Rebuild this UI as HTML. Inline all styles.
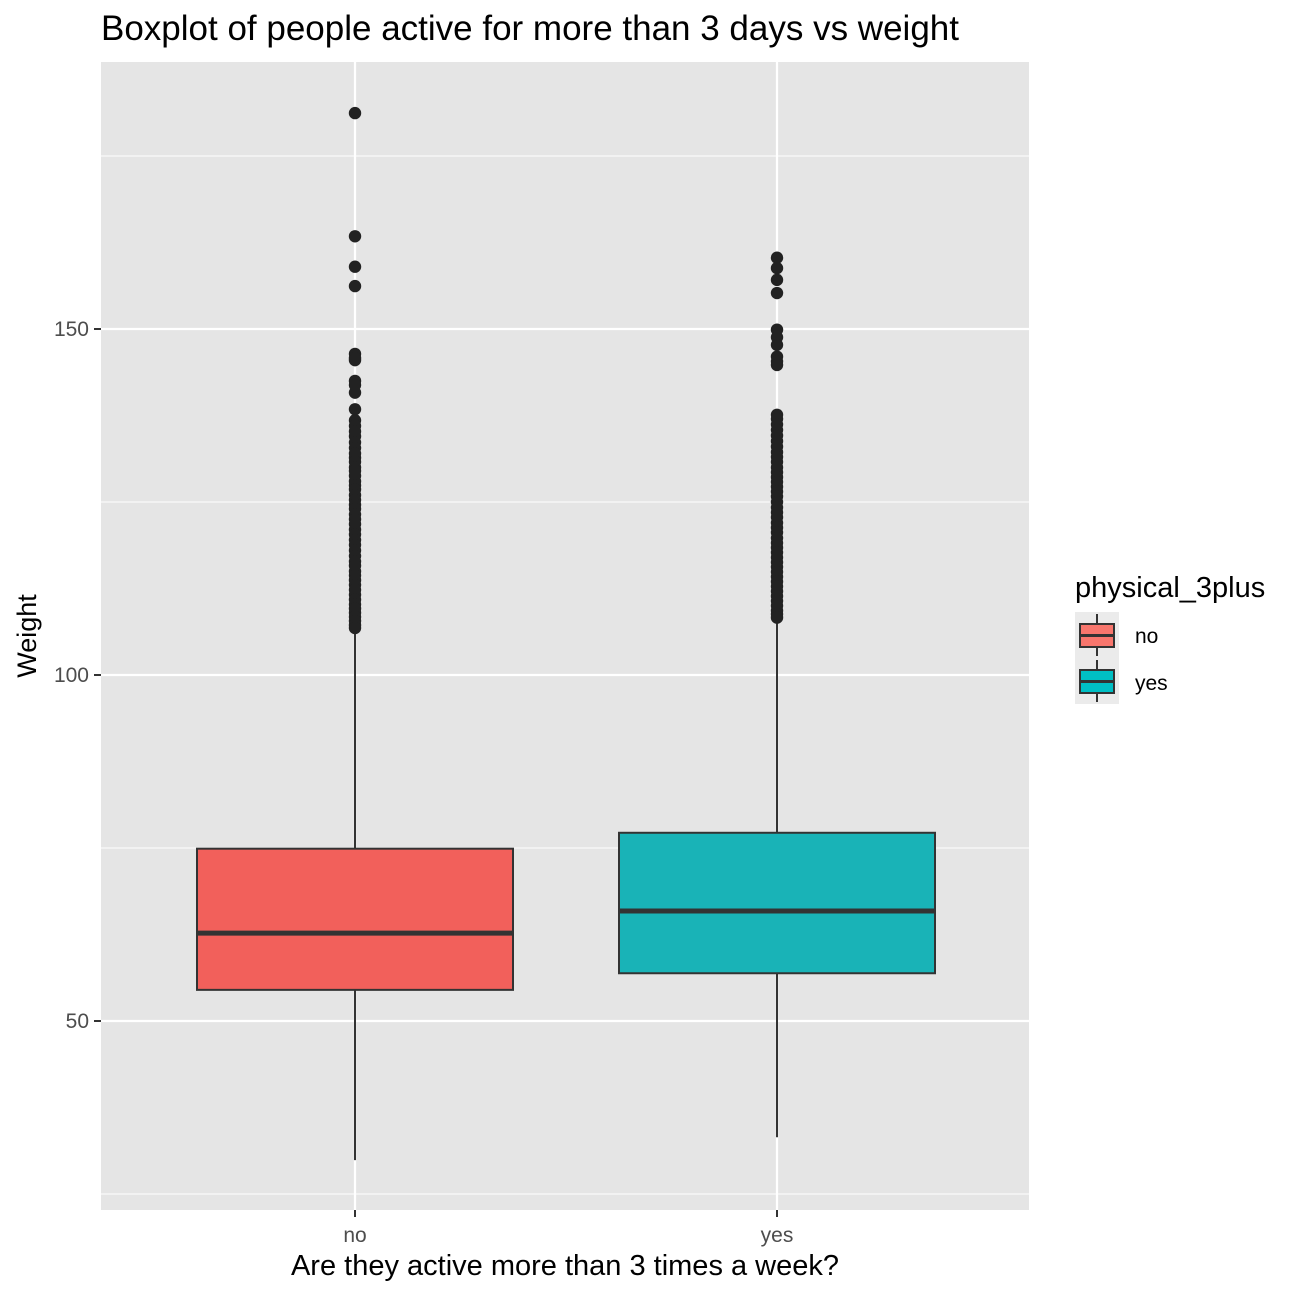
<!DOCTYPE html>
<html><head><meta charset="utf-8"><style>
html,body{margin:0;padding:0;background:#fff}
svg{display:block;font-family:"Liberation Sans",Arial,sans-serif}
</style></head><body>
<svg id="chart" width="1296" height="1296" viewBox="0 0 1296 1296">
<text x="101" y="40" font-size="35" fill="#000">Boxplot of people active for more than 3 days vs weight</text>
<rect x="101" y="62" width="928" height="1148" fill="#e5e5e5"/>
<g id="grid"></g>
<g id="marks"></g>
<g id="axes"></g>
<text x="565" y="1275" font-size="29" text-anchor="middle" fill="#000">Are they active more than 3 times a week?</text>
<text transform="translate(36,636) rotate(-90)" font-size="27" text-anchor="middle" fill="#000">Weight</text>
<g>
<text x="1075" y="597" font-size="29" fill="#000">physical_3plus</text>
<rect x="1075" y="612" width="44" height="92" fill="#ebebeb"/>
<g>
<line x1="1097" y1="614" x2="1097" y2="656" stroke="#333" stroke-width="2"/>
<rect x="1080" y="624" width="34" height="23" fill="#F8766D" stroke="#333" stroke-width="2"/>
<line x1="1080" y1="635.5" x2="1114" y2="635.5" stroke="#333" stroke-width="3"/>
<text x="1135" y="643" font-size="21" fill="#000">no</text>
</g>
<g>
<line x1="1097" y1="660" x2="1097" y2="702" stroke="#333" stroke-width="2"/>
<rect x="1080" y="670" width="34" height="23" fill="#00BFC4" stroke="#333" stroke-width="2"/>
<line x1="1080" y1="681.5" x2="1114" y2="681.5" stroke="#333" stroke-width="3"/>
<text x="1135" y="690" font-size="21" fill="#000">yes</text>
</g>
</g>
</svg>
<script>
const categories = ["no", "yes"];
const fills = ["#F2605B", "#19B3B7"];
const lowerWhisker = [29.9, 33.2];
const q1 = [54.5, 56.9];
const median = [62.7, 65.9];
const q3 = [74.9, 77.2];
const upperWhisker = [106.8, 108.2];
const outliersNo = [181.2,163.4,159.0,156.2,146.4,145.8,145.5,142.5,141.9,140.8,138.4,136.8,136.0,135.2,134.5,133.6,132.8,132.0,131.4,130.8,130.0,129.5,128.8,128.0,127.4,126.8,126.0,125.3,124.6,124.0,123.2,122.5,121.8,121.0,120.3,119.5,118.8,118.0,117.2,116.4,115.8,115.0,114.4,113.7,113.0,112.3,111.6,110.9,110.2,109.6,109.0,108.4,107.8,107.2,106.8];
const outliersYes = [160.3,158.8,157.1,155.2,149.9,148.8,147.7,146.0,145.3,144.8,137.6,137.0,136.2,135.4,134.6,133.8,133.0,132.2,131.5,130.8,130.0,129.3,128.6,127.9,127.2,126.5,125.8,125.0,124.2,123.5,122.8,122.0,121.3,120.6,119.8,119.1,118.4,117.7,117.0,116.3,115.6,114.9,114.2,113.5,112.8,112.1,111.4,110.7,110.0,109.3,108.8,108.3];
const outliers = [outliersNo, outliersYes];
const majorTicks = [50, 100, 150];
const minorTicks = [25, 75, 125, 175];

const NS = "http://www.w3.org/2000/svg";
function yScale(v){ return 675 - (v - 100) * 6.92; }
function xScale(i){ return 355 + i * 422; }
function mk(tag, attrs, parent){
  const e = document.createElementNS(NS, tag);
  for (const k in attrs) e.setAttribute(k, attrs[k]);
  parent.appendChild(e); return e;
}
const grid = document.getElementById("grid");
const marks = document.getElementById("marks");
const axes = document.getElementById("axes");
minorTicks.forEach(t => {
  const l = mk("line", {x1:101, x2:1029, y1:yScale(t), y2:yScale(t), stroke:"#fff", "stroke-width":1.1}, grid);
  
  
});
majorTicks.forEach(t => {
  const y = yScale(t);
  const l = mk("line", {x1:101, x2:1029, y1:y, y2:y, stroke:"#fff", "stroke-width":2.2}, grid);
  
  
  const tk = mk("line", {x1:94, x2:101, y1:y, y2:y, stroke:"#333", "stroke-width":2}, axes);
  
  
  const tx = mk("text", {x:89, y:y+7, "font-size":21, "text-anchor":"end", fill:"#4d4d4d"}, axes);
  tx.textContent = t;
  
  
});
categories.forEach((c, i) => {
  const x = xScale(i);
  const l = mk("line", {x1:x, x2:x, y1:62, y2:1210, stroke:"#fff", "stroke-width":2.2}, grid);
  
  
  const tk = mk("line", {x1:x, x2:x, y1:1210, y2:1217, stroke:"#333", "stroke-width":2}, axes);
  
  
  const tx = mk("text", {x:x, y:1242, "font-size":21, "text-anchor":"middle", fill:"#4d4d4d"}, axes);
  tx.textContent = c;
  
  

  const g = mk("g", {}, marks);
  
  
  const w1 = mk("line", {x1:x, x2:x, y1:yScale(lowerWhisker[i]), y2:yScale(q1[i]), stroke:"#333", "stroke-width":2}, g);
  
  
  const w2 = mk("line", {x1:x, x2:x, y1:yScale(upperWhisker[i]), y2:yScale(q3[i]), stroke:"#333", "stroke-width":2}, g);
  
  
  const r = mk("rect", {x:x-158, width:316, y:yScale(q3[i]), height:yScale(q1[i]) - yScale(q3[i]), fill:fills[i], stroke:"#333", "stroke-width":2}, g);
  
  
  const m = mk("line", {x1:x-158, x2:x+158, y1:yScale(median[i]), y2:yScale(median[i]), stroke:"#333", "stroke-width":5}, g);
  
  
  outliers[i].forEach(v => {
    const p = mk("circle", {cx:x, cy:yScale(v), r:6.2, fill:"#222"}, g);
    
    
  });
});
</script>
</body></html>
